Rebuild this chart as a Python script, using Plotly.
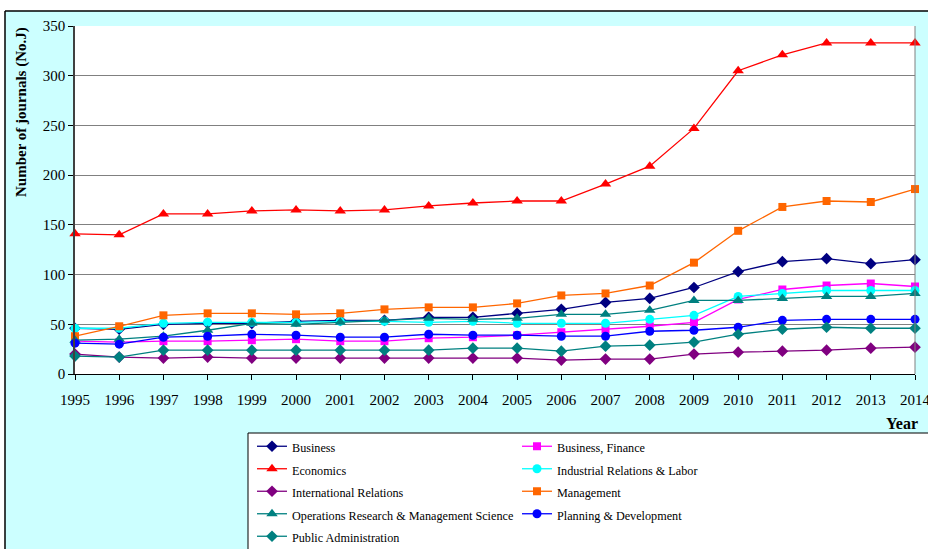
import plotly.graph_objects as go

years = list(range(1995, 2015))

business = [46, 45, 50, 51, 51, 53, 54, 54, 57, 57, 61, 65, 72, 76, 87, 103, 113, 116, 111, 115]
business_finance = [33, 32, 33, 33, 34, 35, 33, 33, 36, 37, 39, 42, 45, 48, 52, 75, 85, 89, 91, 88]
economics = [141, 140, 161, 161, 164, 165, 164, 165, 169, 172, 174, 174, 191, 209, 247, 305, 321, 333, 333, 333]
industrial_relations = [46, 46, 51, 52, 52, 52, 53, 53, 52, 53, 51, 51, 51, 55, 59, 78, 81, 84, 84, 84]
international_relations = [20, 17, 16, 17, 16, 16, 16, 16, 16, 16, 16, 14, 15, 15, 20, 22, 23, 24, 26, 27]
management = [38, 48, 59, 61, 61, 60, 61, 65, 67, 67, 71, 79, 81, 89, 112, 144, 168, 174, 173, 186]
operations_research = [34, 35, 38, 44, 51, 50, 52, 54, 56, 55, 56, 60, 60, 64, 74, 74, 76, 78, 78, 81]
planning_development = [31, 30, 37, 38, 40, 39, 37, 37, 40, 39, 39, 38, 38, 43, 44, 47, 54, 55, 55, 55]
public_administration = [18, 17, 24, 24, 24, 24, 24, 24, 24, 26, 26, 23, 28, 29, 32, 40, 45, 47, 46, 46]

series_names = [
    "Business", "Business, Finance", "Economics", "Industrial Relations & Labor",
    "International Relations", "Management", "Operations Research & Management Science",
    "Planning & Development", "Public Administration",
]
series_values = [
    business, business_finance, economics, industrial_relations, international_relations,
    management, operations_research, planning_development, public_administration,
]
series_styles = [
    ("#000080", "diamond", 9),
    ("#FF00FF", "square", 8),
    ("#FF0000", "triangle-up", 10),
    ("#00FFFF", "circle", 9),
    ("#800080", "diamond", 9),
    ("#FF6600", "square", 8),
    ("#008080", "triangle-up", 10),
    ("#0000FF", "circle", 9),
    ("#008080", "diamond", 9),
]

FONT = "Liberation Serif"
W, H = 928, 549
L, R, T, B = 75, 13, 26, 175

fig = go.Figure()
for i, (name, vals, (color, sym, size)) in enumerate(zip(series_names, series_values, series_styles)):
    fig.add_trace(go.Scatter(
        x=years, y=vals, mode="lines+markers",
        name="<span style='font-size:12.2px'>" + name.replace("&", "&amp;") + "</span>",
        legend="legend" if i % 2 == 0 else "legend2",
        line=dict(color=color, width=1.3),
        marker=dict(symbol=sym, size=size, color=color),
        cliponaxis=False,
    ))

def px_x(p):
    return (p - L) / (W - L - R)

def px_y(p):
    return (H - B - p) / (H - T - B)

shapes = [
    dict(type="rect", xref="paper", yref="paper", x0=px_x(-5), x1=px_x(W + 5), y0=px_y(11), y1=px_y(-5),
         fillcolor="white", line=dict(width=0), layer="below"),
    dict(type="rect", xref="paper", yref="paper", x0=px_x(-5), x1=px_x(5), y0=px_y(H + 5), y1=px_y(-5),
         fillcolor="white", line=dict(width=0), layer="below"),
    dict(type="line", xref="paper", yref="paper", x0=px_x(5), x1=px_x(W + 5), y0=px_y(11), y1=px_y(11),
         line=dict(color="black", width=1.5)),
    dict(type="line", xref="paper", yref="paper", x0=px_x(5), x1=px_x(5), y0=px_y(11), y1=px_y(H + 5),
         line=dict(color="black", width=1.5)),
    dict(type="rect", xref="paper", yref="paper", x0=px_x(248), x1=px_x(W + 10), y0=px_y(433), y1=px_y(H + 10),
         fillcolor="white", line=dict(color="black", width=1)),
    dict(type="line", xref="paper", yref="paper", x0=1, x1=1, y0=0, y1=1,
         line=dict(color="#808080", width=1)),
]

legend_common = dict(
    orientation="v", xref="container", yref="container",
    xanchor="left", yanchor="top",
    bgcolor="rgba(0,0,0,0)", borderwidth=0,
    font=dict(family=FONT, size=15, color="black"),
    itemwidth=30, tracegroupgap=0,
)

fig.update_layout(
    width=W, height=H,
    margin=dict(l=L, r=R, t=T, b=B, autoexpand=False),
    paper_bgcolor="#CCFFFF",
    plot_bgcolor="white",
    font=dict(family=FONT, size=15, color="black"),
    shapes=shapes,
    showlegend=True,
    legend=dict(x=252 / W, y=1 - 430 / H, **legend_common),
    legend2=dict(x=517 / W, y=1 - 430 / H, **legend_common),
    xaxis=dict(
        range=[1995, 2014], tickmode="array", tickvals=years, ticktext=[str(y) for y in years],
        showgrid=False, showline=True, linecolor="black", linewidth=1,
        ticks="outside", ticklen=5, tickcolor="black",
        tickfont=dict(family=FONT, size=15), ticklabelstandoff=7,
        ticklabeloverflow="allow", zeroline=False,
    ),
    yaxis=dict(
        range=[0, 350], dtick=50, tickmode="linear",
        showgrid=True, gridcolor="#808080", gridwidth=1,
        showline=True, linecolor="#404040", linewidth=1.5,
        ticks="outside", ticklen=5, tickcolor="black",
        tickfont=dict(family=FONT, size=15), zeroline=False,
    ),
    annotations=[
        dict(text="<b>Number of journals (No.J)</b>", xref="paper", yref="paper",
             x=px_x(22), y=px_y(112), textangle=-90, showarrow=False,
             font=dict(family=FONT, size=15), xanchor="center", yanchor="middle"),
        dict(text="<b>Year</b>", xref="paper", yref="paper",
             x=px_x(902), y=px_y(423), showarrow=False,
             font=dict(family=FONT, size=16), xanchor="center", yanchor="middle"),
    ],
)

fig.write_html(
    "out.html",
    config={"displayModeBar": False},
    post_script="document.body.style.margin='0px';document.body.style.overflow='hidden';",
)
